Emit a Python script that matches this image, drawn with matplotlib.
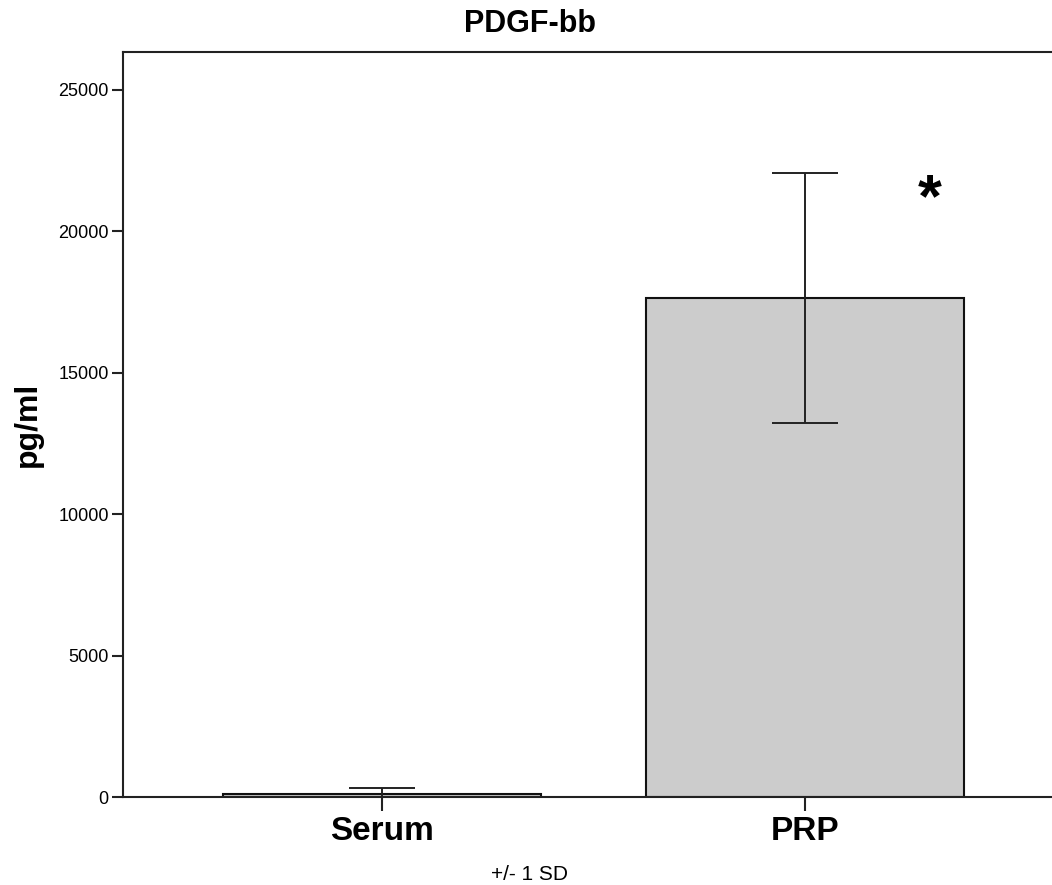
import numpy as np
import matplotlib.pyplot as plt

# PDGF-bb: Serum vs PRP, mean +/- 1 SD
categories = ["Serum", "PRP"]
means = [140, 17640]
sds = [180, 4420]
y_ticks = [0, 5000, 10000, 15000, 20000, 25000]

plt.rcParams['font.family'] = ['Liberation Sans', 'DejaVu Sans']

fig = plt.figure(figsize=(10.52, 8.85), dpi=100)
ax = fig.add_axes([0.1166, 0.0989, 0.8834, 0.842])

x = np.arange(len(categories))
ax.bar(x, means, width=0.752, color='#cccccc', edgecolor='#111111', linewidth=1.5, zorder=2)
ax.errorbar(x, means, yerr=sds, fmt='none', ecolor='#222222', elinewidth=1.4,
            capsize=23.5, capthick=1.4, zorder=3)

ax.set_xlim(-0.613, 1.584)
ax.set_ylim(0, 26320)
ax.set_xticks(x)
ax.set_xticklabels(categories, fontsize=24, fontweight='bold')
ax.set_yticks(y_ticks)
ax.set_yticklabels([str(v) for v in y_ticks], fontsize=13)

for side in ['left', 'top', 'bottom']:
    ax.spines[side].set_linewidth(1.5)
    ax.spines[side].set_color('#222222')
ax.spines['right'].set_visible(False)
ax.tick_params(axis='y', length=8, width=1.5, pad=2, color='#222222')
ax.tick_params(axis='x', length=10, width=1.5, pad=3, color='#222222')

# significance mark
ax.text(1.296, 21070, "*", fontsize=44, fontweight='bold', ha='center', va='center')

fig.text(0.504, 0.973, "PDGF-bb", fontsize=22, fontweight='bold', ha='center', va='center')
fig.text(0.0266, 0.52, "pg/ml", fontsize=23, fontweight='bold', rotation=90,
         ha='center', va='center')
fig.text(0.503, 0.012, "+/- 1 SD", fontsize=15, ha='center', va='center')

fig.savefig("out.png", dpi=100, facecolor='white')
